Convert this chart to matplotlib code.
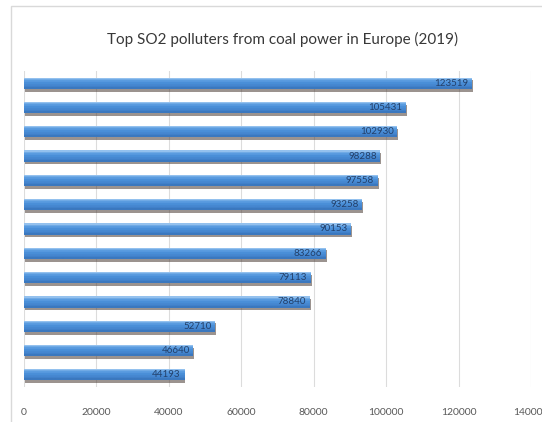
import matplotlib.pyplot as plt
import matplotlib.patheffects as pe
from matplotlib.patches import Rectangle
from matplotlib.colors import to_rgb
import numpy as np

# SO2 emissions (tonnes), largest first
emissions = [123519, 105431, 102930, 98288, 97558, 93258, 90153,
             83266, 79113, 78840, 52710, 46640, 44193]
x_ticks = [0, 20000, 40000, 60000, 80000, 100000, 120000, 140000]
title = 'Top SO2 polluters from coal power in Europe (2019)'

W, H = 542, 422
fig = plt.figure(figsize=(W / 100, H / 100), dpi=100)
fig.patch.set_facecolor('white')

# light chart border
fig.patches.append(Rectangle((11 / W, -0.05), 1.0, 1 - 6 / H + 0.05,
                             transform=fig.transFigure, fill=False,
                             ec='#d9d9d9', lw=1.0))

ax = fig.add_axes([24 / W, 35 / H, 507 / W, 316 / H])
y = np.arange(len(emissions))[::-1]
bar_h = 0.46

# vertical shading: light rim on top, darker toward the bottom
stops = ['#94c1ee', '#5a9ce0', '#4a8fd8', '#4586d0', '#3b78bf']
grad = np.array([to_rgb(c) for c in stops])
grad = np.repeat(grad, 6, axis=0)[:, None, :]

bars = ax.barh(y, emissions, height=bar_h, color='#4a8fd8', zorder=3, lw=0)
for b, yi, v in zip(bars, y, emissions):
    b.set_path_effects([pe.SimplePatchShadow(offset=(1.0, -2.0),
                                             shadow_rgbFace='#4a3a33', alpha=0.55),
                        pe.Normal()])
    im = ax.imshow(grad, extent=[0, v, yi - bar_h / 2, yi + bar_h / 2],
                   aspect='auto', zorder=3.5, interpolation='bilinear')
    im.set_clip_path(b)

for yi, v in zip(y, emissions):
    ax.text(v - 900, yi, str(v), ha='right', va='center', fontsize=7,
            color='#23406a', family='Lato', zorder=4)

ax.set_xlim(0, 140000)
ax.set_ylim(-0.5, len(emissions) - 0.5)
ax.set_xticks(x_ticks)
ax.set_xticklabels([str(t) for t in x_ticks], family='Lato',
                   fontsize=7.5, color='#595959')
ax.set_yticks([])
ax.tick_params(axis='x', length=0, pad=15)
ax.grid(axis='x', color='#dcdcdc', lw=0.8, zorder=0)
for s in ax.spines.values():
    s.set_visible(False)

fig.text(283 / W, 1 - 39 / H, title, ha='center', va='center', fontsize=11,
         color='#383838', family='Lato')

fig.savefig('out.png', dpi=100)
